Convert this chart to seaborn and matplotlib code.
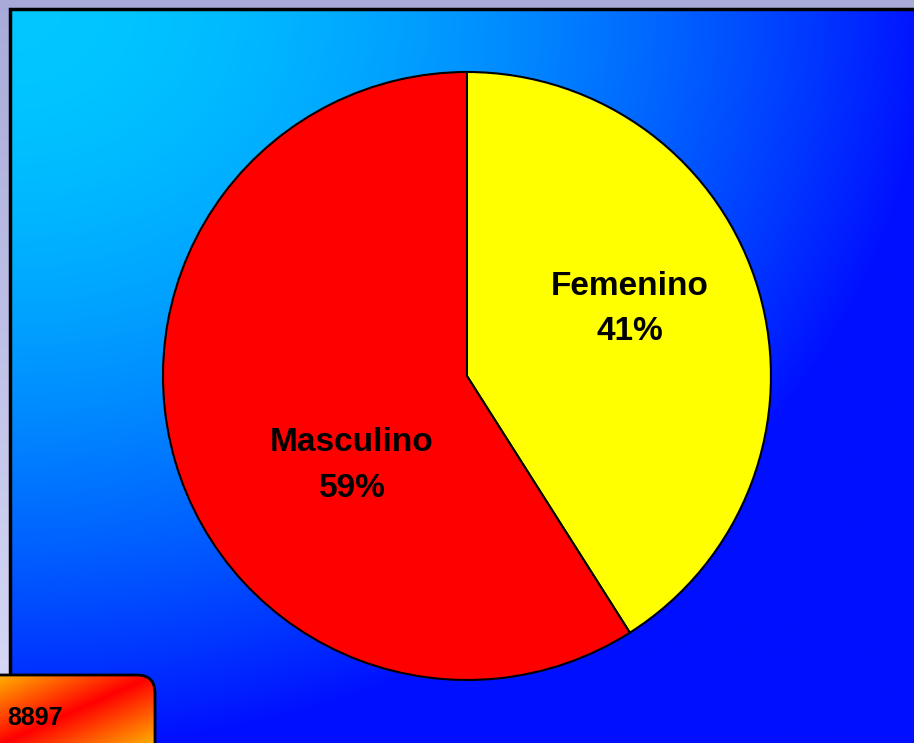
import numpy as np
import seaborn as sns
import matplotlib.pyplot as plt
from matplotlib.patches import FancyBboxPatch

sns.set_style("white")
plt.rcParams['font.family'] = ['Liberation Sans', 'DejaVu Sans']

# datos
categorias = ['Femenino', 'Masculino']
porcentajes = [41, 59]
colores = ['#ffff00', '#ff0000']
total = 8897

W, H = 914, 743
fig = plt.figure(figsize=(W / 100, H / 100), dpi=100)

# fondo en coordenadas de pixel
bg = fig.add_axes([0, 0, 1, 1])
bg.set_xlim(0, W)
bg.set_ylim(H, 0)
bg.axis('off')

# franja lila exterior
yy = np.linspace(0, 1, 200)[:, None]
lila = np.stack([0.66 + 0.19 * yy, 0.67 + 0.19 * yy, 0.85 + 0.12 * yy], axis=-1)
lila = np.repeat(lila, 2, axis=1)
bg.imshow(lila, extent=[0, W, H, 0], aspect='auto', interpolation='bilinear')

# panel azul con degradado desde la esquina superior izquierda
px0, py0 = 10, 9
xs = np.linspace(0, W - px0, 300)
ys = np.linspace(0, H - py0, 250)
X, Y = np.meshgrid(xs, ys)
d = np.sqrt(X ** 2 + (Y * 1.24) ** 2)
g = 16 + 184 * np.clip(1 - (d / 920) ** 1.8, 0, 1)
panel = np.stack([np.zeros_like(g), g / 255, np.ones_like(g)], axis=-1)
bg.imshow(panel, extent=[px0, W, H, py0], aspect='auto', interpolation='bilinear')
bg.plot([px0, px0, W], [680, py0, py0], color='black', lw=2.5, solid_joinstyle='miter')

# caja inferior izquierda con el total
caja = FancyBboxPatch((-20, 675), 175, 120, boxstyle='round,pad=0,rounding_size=18',
                      facecolor='none', edgecolor='black', lw=2, zorder=4)
bg.add_patch(caja)
bx = np.linspace(0, 160, 200)
by = np.linspace(673, H, 100)
BX, BY = np.meshgrid(bx, by)
# distancia a la diagonal (10,740)-(143,680)
nx, ny = 60, 133
t = ((BX - 10) * nx + (BY - 740) * ny) / np.hypot(nx, ny)
k = np.clip(np.abs(t) / 60, 0, 1)
naranja = np.stack([np.ones_like(k), 0.65 * k, np.zeros_like(k)], axis=-1)
im = bg.imshow(naranja, extent=[0, 160, H, 673], aspect='auto',
               interpolation='bilinear', zorder=3)
im.set_clip_path(caja)
bg.text(7, 718, f'{total}', fontsize=18, fontweight='bold', color='black',
        ha='left', va='center', zorder=5)

# grafico de torta
ax = fig.add_axes([0.1783, 0.0848, 0.6652, 0.8183])
cunas, _ = ax.pie(porcentajes, colors=colores, startangle=90, counterclock=False,
                  radius=1, wedgeprops=dict(edgecolor='black', linewidth=1.5))
ax.set_xlim(-1.0, 1.0)
ax.set_ylim(-1.0, 1.0)
ax.axis('off')

pos_etiquetas = [(0.536, 0.22), (-0.378, -0.295)]
for cat, pct, (lx, ly) in zip(categorias, porcentajes, pos_etiquetas):
    ax.text(lx, ly, f'{cat}\n{pct}%', fontsize=24, fontweight='bold', color='black',
            ha='center', va='center', linespacing=1.6)

fig.savefig('out.png', dpi=100)
